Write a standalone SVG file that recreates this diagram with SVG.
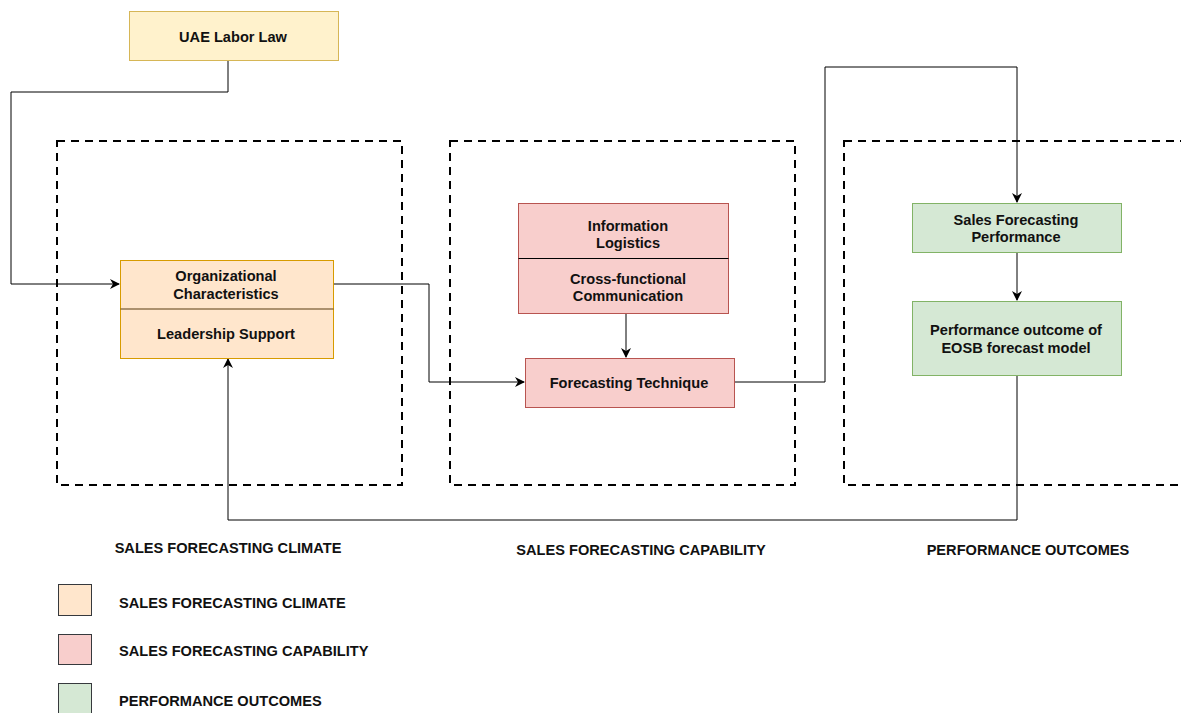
<svg xmlns="http://www.w3.org/2000/svg" width="1181" height="713" viewBox="0 0 1181 713">
  <style>
    text { font-family: "Liberation Sans", Arial, sans-serif; font-weight: bold; font-size: 14.6px; fill: #111; }
    .c { text-anchor: middle; }
    .frame { fill: none; stroke: #000; stroke-width: 2; stroke-dasharray: 8 6; }
    .climate { fill: #ffe6cc; stroke: #d79b00; }
    .law { fill: #fff2cc; stroke: #d6b656; }
    .cap { fill: #f8cecc; stroke: #b85450; }
    .perf { fill: #d5e8d4; stroke: #82b366; }
    .edge { fill: none; stroke: #000; stroke-width: 1; }
    .key { stroke: #36393d; stroke-width: 1; }
  </style>
  <defs>
    <marker id="arrow" viewBox="0 0 10 10" refX="9" refY="5" markerWidth="10" markerHeight="10" markerUnits="userSpaceOnUse" orient="auto">
      <path d="M0,0 L10,5 L0,10 L3,5 Z" fill="#000"/>
    </marker>
  </defs>
  <rect width="1181" height="713" fill="#fff"/>

  <!-- group frames -->
  <g id="frames">
    <rect class="frame" x="57" y="141" width="345" height="344"/>
    <rect class="frame" x="450" y="141" width="345" height="344"/>
    <rect class="frame" x="844" y="141" width="345" height="344"/>
  </g>

  <!-- connectors -->
  <g id="connectors">
    <polyline class="edge" points="228,61 228,92 11,92 11,284 119,284" marker-end="url(#arrow)"/>
    <polyline class="edge" points="333,284 429,284 429,382 524,382" marker-end="url(#arrow)"/>
    <polyline class="edge" points="626,314 626,357" marker-end="url(#arrow)"/>
    <polyline class="edge" points="734,382 825,382 825,67 1017,67 1017,202" marker-end="url(#arrow)"/>
    <polyline class="edge" points="1017,252 1017,300" marker-end="url(#arrow)"/>
    <polyline class="edge" points="1017,375 1017,520 228,520 228,359" marker-end="url(#arrow)"/>
  </g>

  <g id="uae-labor-law">
    <rect class="law" x="129.5" y="11.5" width="209" height="49"/>
    <text class="c" x="233" y="41.5">UAE Labor Law</text>
  </g>

  <g id="organizational-characteristics">
    <rect class="climate" x="120.5" y="260.5" width="213" height="98"/>
    <line x1="120.5" y1="309" x2="333.5" y2="309" stroke="#5a3d10" stroke-width="1.2"/>
    <text class="c" x="226" y="281">Organizational</text>
    <text class="c" x="226" y="299">Characteristics</text>
    <text class="c" x="226" y="339">Leadership Support</text>
  </g>

  <g id="information-logistics">
    <rect class="cap" x="518.5" y="203.5" width="210" height="110"/>
    <line x1="518.5" y1="258.5" x2="728.5" y2="258.5" stroke="#000" stroke-width="1"/>
    <text class="c" x="628" y="231">Information</text>
    <text class="c" x="628" y="248">Logistics</text>
    <text class="c" x="628" y="284">Cross-functional</text>
    <text class="c" x="628" y="301">Communication</text>
  </g>

  <g id="forecasting-technique">
    <rect class="cap" x="525.5" y="358.5" width="209" height="49"/>
    <text class="c" x="629" y="388">Forecasting Technique</text>
  </g>

  <g id="sales-forecasting-performance">
    <rect class="perf" x="912.5" y="203.5" width="209" height="49"/>
    <text class="c" x="1016" y="225">Sales Forecasting</text>
    <text class="c" x="1016" y="242">Performance</text>
  </g>

  <g id="performance-outcome">
    <rect class="perf" x="912.5" y="301.5" width="209" height="74"/>
    <text class="c" x="1016" y="335">Performance outcome of</text>
    <text class="c" x="1016" y="353">EOSB forecast model</text>
  </g>

  <!-- group captions -->
  <g id="captions">
    <text class="c" x="228" y="553">SALES FORECASTING CLIMATE</text>
    <text class="c" x="641" y="555">SALES FORECASTING CAPABILITY</text>
    <text class="c" x="1028" y="555">PERFORMANCE OUTCOMES</text>
  </g>

  <!-- legend -->
  <g id="legend">
    <rect class="key" x="58.5" y="584.5" width="33" height="31" fill="#ffe6cc"/>
    <rect class="key" x="58.5" y="634.5" width="33" height="30" fill="#f8cecc"/>
    <rect class="key" x="58.5" y="683.5" width="33" height="31" fill="#d5e8d4"/>
    <text x="119" y="608">SALES FORECASTING CLIMATE</text>
    <text x="119" y="656">SALES FORECASTING CAPABILITY</text>
    <text x="119" y="706">PERFORMANCE OUTCOMES</text>
  </g>
</svg>
